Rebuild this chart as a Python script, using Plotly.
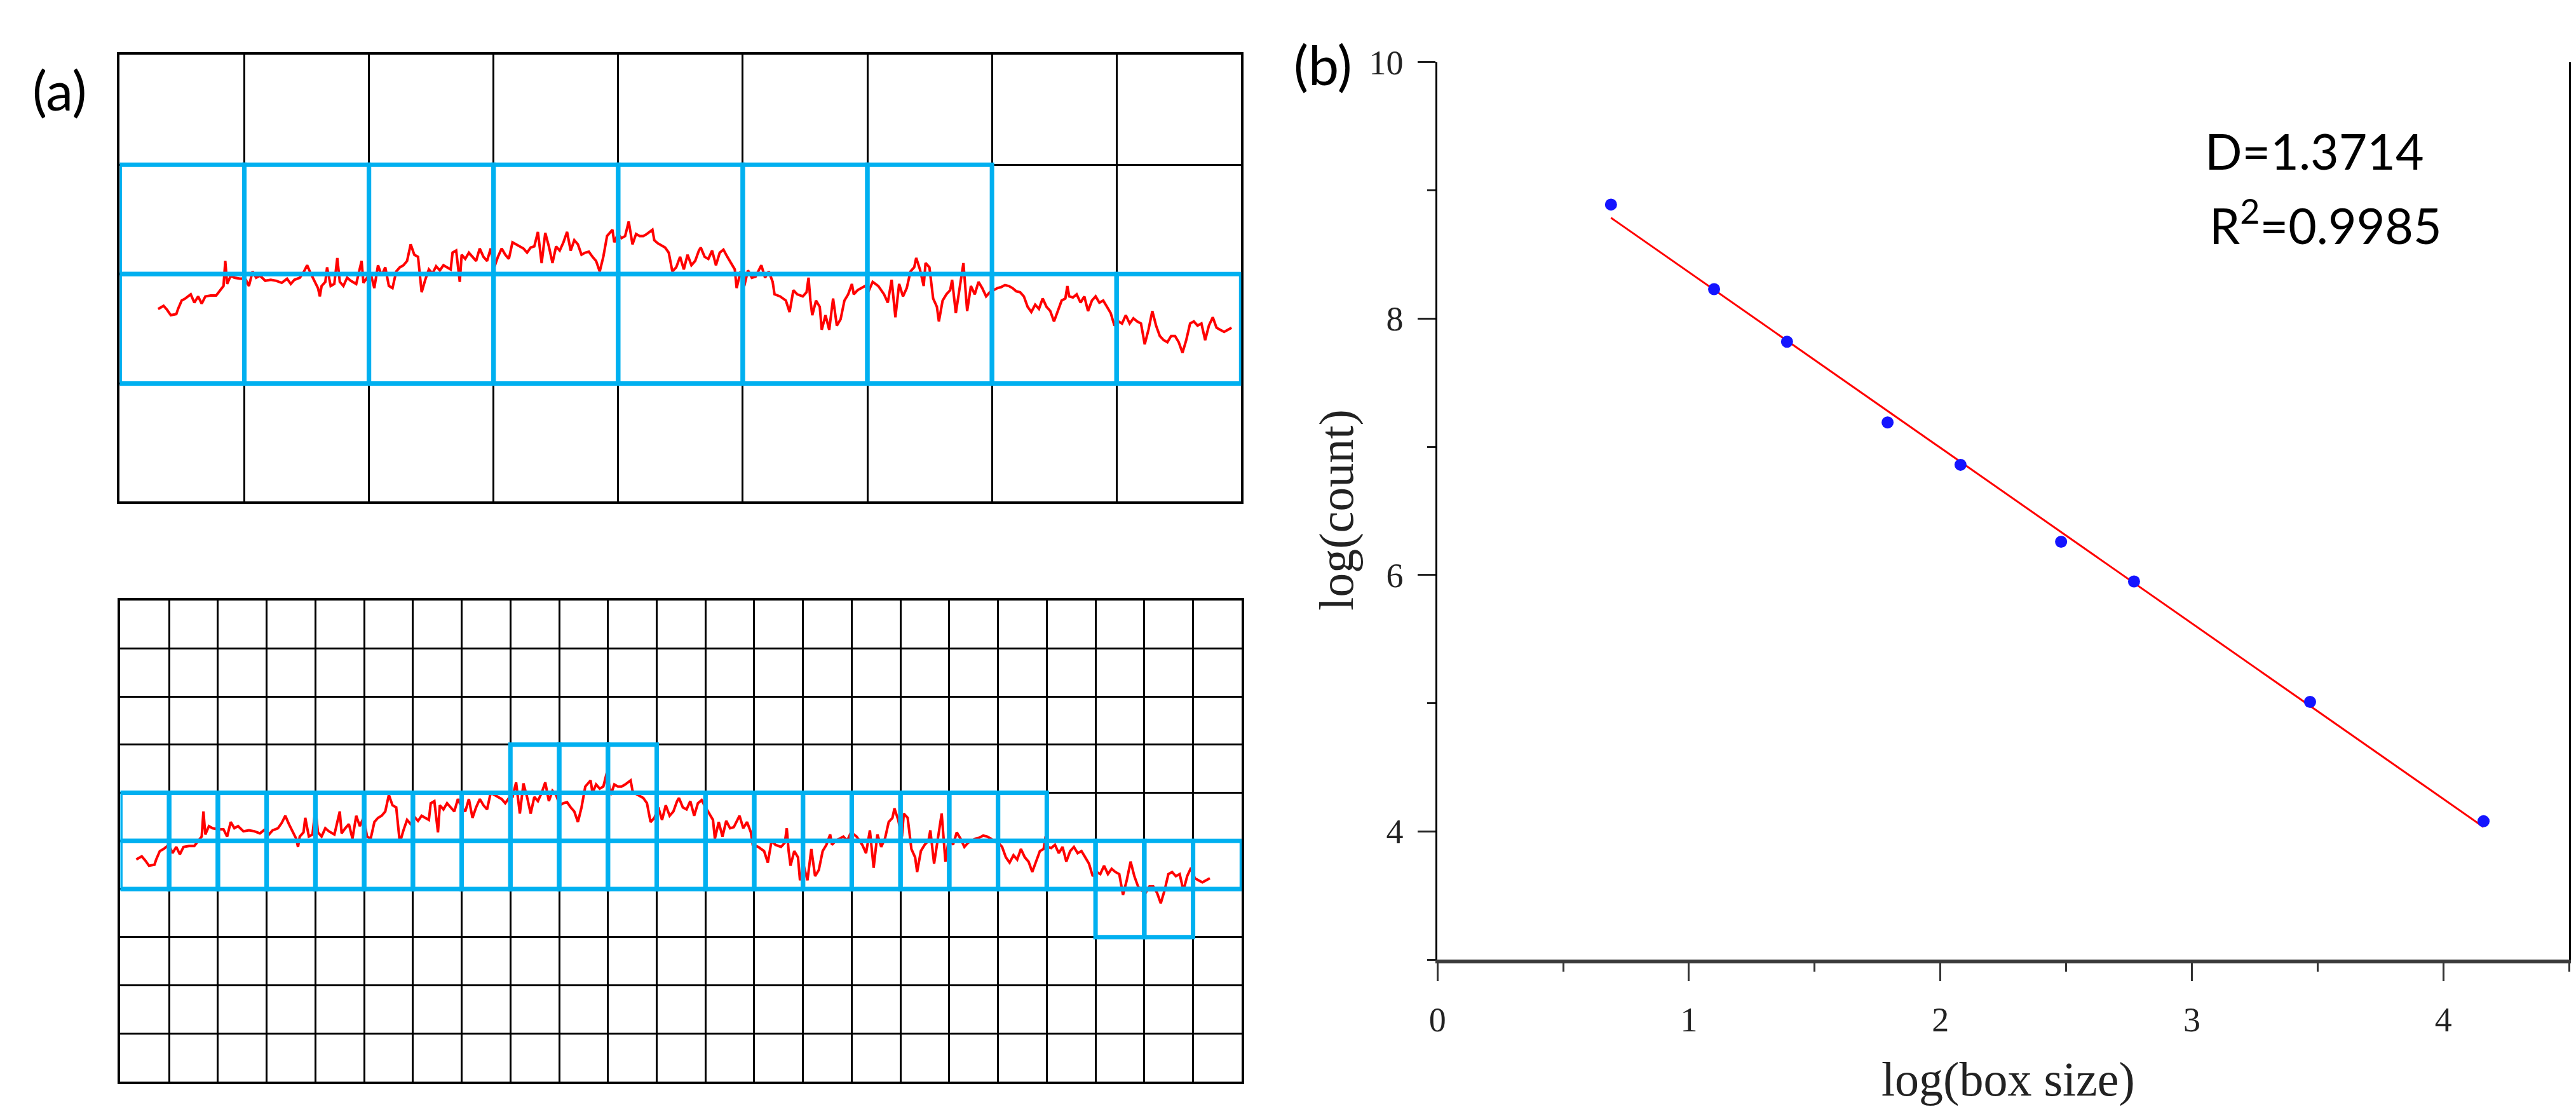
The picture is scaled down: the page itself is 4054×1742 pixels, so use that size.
import numpy as np
import plotly.graph_objects as go

W, H = 4054, 1742

# ---- data -------------------------------------------------------------
# profile trace: x in top-grid columns, y in top-grid rows
# (y = 0 is the lower edge of the upper blue band)
sig_t = [0.308, 0.352, 0.381, 0.410, 0.454, 0.468, 0.497, 0.527, 0.570, 0.599,
         0.629, 0.658, 0.687, 0.731, 0.774, 0.804, 0.833, 0.847, 0.862, 0.891,
         0.920, 0.964, 1.008, 1.037, 1.066, 1.095, 1.125, 1.168, 1.212, 1.256,
         1.300, 1.343, 1.373, 1.402, 1.445, 1.475, 1.504, 1.533, 1.562, 1.591,
         1.606, 1.620, 1.650, 1.664, 1.693, 1.722, 1.746, 1.766, 1.795, 1.825,
         1.854, 1.898, 1.941, 1.956, 1.985, 2.014, 2.043, 2.073, 2.102, 2.131,
         2.160, 2.189, 2.219, 2.248, 2.277, 2.306, 2.335, 2.364, 2.394, 2.423,
         2.452, 2.481, 2.510, 2.539, 2.569, 2.598, 2.627, 2.656, 2.671, 2.700,
         2.729, 2.744, 2.773, 2.802, 2.831, 2.860, 2.889, 2.919, 2.948, 2.977,
         3.006, 3.035, 3.065, 3.094, 3.123, 3.152, 3.181, 3.210, 3.240, 3.269,
         3.298, 3.327, 3.356, 3.386, 3.415, 3.444, 3.473, 3.502, 3.531, 3.561,
         3.590, 3.619, 3.648, 3.677, 3.706, 3.736, 3.765, 3.794, 3.823, 3.852,
         3.881, 3.911, 3.954, 3.969, 3.998, 4.027, 4.056, 4.085, 4.115, 4.144,
         4.173, 4.202, 4.231, 4.275, 4.290, 4.319, 4.348, 4.377, 4.406, 4.421,
         4.435, 4.466, 4.497, 4.527, 4.557, 4.588, 4.618, 4.648, 4.663, 4.694,
         4.724, 4.754, 4.785, 4.815, 4.845, 4.876, 4.906, 4.936, 4.951, 4.982,
         5.012, 5.042, 5.073, 5.103, 5.149, 5.179, 5.209, 5.240, 5.255, 5.300,
         5.346, 5.376, 5.406, 5.437, 5.482, 5.512, 5.528, 5.543, 5.558, 5.588,
         5.618, 5.634, 5.664, 5.694, 5.725, 5.755, 5.785, 5.816, 5.846, 5.876,
         5.891, 5.922, 5.952, 5.982, 6.013, 6.043, 6.088, 6.134, 6.164, 6.195,
         6.225, 6.255, 6.286, 6.316, 6.346, 6.376, 6.392, 6.422, 6.452, 6.467,
         6.498, 6.528, 6.558, 6.574, 6.604, 6.634, 6.665, 6.680, 6.710, 6.740,
         6.771, 6.801, 6.831, 6.862, 6.892, 6.922, 6.953, 6.983, 7.013, 7.044,
         7.074, 7.104, 7.135, 7.165, 7.195, 7.226, 7.256, 7.286, 7.316, 7.347,
         7.377, 7.407, 7.438, 7.468, 7.498, 7.529, 7.559, 7.589, 7.605, 7.620,
         7.650, 7.680, 7.711, 7.741, 7.771, 7.802, 7.832, 7.862, 7.893, 7.923,
         7.953, 7.983, 8.014, 8.044, 8.074, 8.105, 8.135, 8.165, 8.196, 8.226,
         8.256, 8.287, 8.317, 8.347, 8.378, 8.408, 8.438, 8.469, 8.499, 8.529,
         8.559, 8.590, 8.620, 8.650, 8.681, 8.711, 8.741, 8.772, 8.802, 8.832,
         8.863, 8.893, 8.923]
sig_v = [0.681, 0.710, 0.672, 0.624, 0.634, 0.681, 0.758, 0.777, 0.815, 0.739,
         0.796, 0.729, 0.796, 0.805, 0.805, 0.853, 0.891, 1.120, 0.910, 0.986,
         0.967, 0.958, 0.958, 0.891, 1.024, 0.967, 0.986, 0.939, 0.948, 0.939,
         0.920, 0.958, 0.910, 0.948, 0.967, 1.015, 1.081, 1.005, 0.939, 0.872,
         0.796, 0.891, 0.929, 1.062, 0.891, 0.910, 1.148, 0.929, 0.891, 0.967,
         0.939, 0.910, 1.120, 0.920, 0.967, 1.005, 0.872, 1.081, 0.986, 1.062,
         0.891, 0.872, 1.024, 1.062, 1.081, 1.120, 1.272, 1.177, 1.158, 0.834,
         0.948, 1.043, 1.005, 1.072, 1.034, 1.081, 1.062, 1.043, 1.196, 1.215,
         0.929, 1.177, 1.139, 1.196, 1.158, 1.120, 1.234, 1.158, 1.120, 1.234,
         1.062, 1.158, 1.234, 1.177, 1.139, 1.291, 1.272, 1.253, 1.234, 1.196,
         1.243, 1.253, 1.386, 1.101, 1.377, 1.253, 1.101, 1.253, 1.215, 1.291,
         1.386, 1.215, 1.310, 1.272, 1.177, 1.196, 1.205, 1.158, 1.120, 1.024,
         1.158, 1.348, 1.405, 1.291, 1.367, 1.329, 1.348, 1.481, 1.272, 1.367,
         1.348, 1.348, 1.367, 1.405, 1.310, 1.281, 1.262, 1.243, 1.196, 1.120,
         1.024, 1.062, 1.158, 1.043, 1.177, 1.081, 1.120, 1.215, 1.243, 1.158,
         1.139, 1.215, 1.081, 1.196, 1.224, 1.158, 1.101, 1.043, 0.872, 1.024,
         0.891, 1.034, 0.967, 0.977, 1.081, 0.967, 1.024, 0.929, 0.815, 0.796,
         0.758, 0.653, 0.853, 0.815, 0.796, 0.834, 0.967, 0.758, 0.624, 0.758,
         0.701, 0.491, 0.624, 0.491, 0.777, 0.529, 0.586, 0.758, 0.815, 0.910,
         0.815, 0.853, 0.872, 0.891, 0.853, 0.929, 0.891, 0.815, 0.739, 0.948,
         0.605, 0.910, 0.796, 0.872, 1.024, 1.062, 1.148, 1.043, 0.891, 1.101,
         1.062, 0.777, 0.701, 0.567, 0.758, 0.815, 0.853, 0.948, 0.643, 0.853,
         1.101, 0.662, 0.891, 0.815, 0.929, 0.872, 0.796, 0.834, 0.853, 0.872,
         0.881, 0.900, 0.891, 0.872, 0.843, 0.834, 0.796, 0.701, 0.653, 0.720,
         0.681, 0.777, 0.701, 0.662, 0.567, 0.662, 0.758, 0.777, 0.891, 0.796,
         0.786, 0.815, 0.739, 0.796, 0.662, 0.758, 0.796, 0.739, 0.758, 0.701,
         0.643, 0.529, 0.567, 0.548, 0.624, 0.548, 0.596, 0.567, 0.548, 0.358,
         0.491, 0.662, 0.529, 0.434, 0.396, 0.377, 0.434, 0.434, 0.377, 0.281,
         0.396, 0.548, 0.567, 0.529, 0.548, 0.396, 0.529, 0.605, 0.510, 0.491,
         0.472, 0.491, 0.510]

# covering boxes: (row counted from the top, first column, last column)
top_box_runs = [(1, 0, 6), (2, 0, 8)]
bottom_box_runs = [(3, 8, 10), (4, 0, 18), (5, 0, 22), (6, 20, 21)]

# panel (b)
log_box = [0.69, 1.10, 1.39, 1.79, 2.08, 2.48, 2.77, 3.47, 4.16]
log_count = [8.89, 8.23, 7.82, 7.19, 6.86, 6.26, 5.95, 5.01, 4.08]
D_text = "D=1.3714"
R2_text = "R<sup>2</sup>=0.9985"

# ---- geometry (pixels of the 4054x1742 page) --------------------------
def px(x):
    return x / W

def py(y):
    return 1 - y / H

TOP = dict(x0=167, x1=1938, y0=50, y1=765)
BOT = dict(x0=168, x1=1939, y0=923, y1=1693)
B = dict(x0=2248, x1=4035, y0=62, y1=1498)
COL_TOP, ROW_TOP, BAND_Y = 196.8, 175.0, 576   # top grid cell size, y=0 line
SHIFT_X, SHIFT_Y = -34.5, 881                   # same trace redrawn lower-left

BLUE = "#00B0F0"
RED = "#FF0000"

fig = go.Figure()

fig.add_trace(go.Scatter(x=sig_t, y=sig_v, mode="lines", xaxis="x", yaxis="y",
                         line=dict(color=RED, width=4)))
fig.add_trace(go.Scatter(x=sig_t, y=sig_v, mode="lines", xaxis="x3", yaxis="y3",
                         line=dict(color=RED, width=4)))

coef = np.polyfit(log_box, log_count, 1)
fit_x = [min(log_box), max(log_box)]
fig.add_trace(go.Scatter(x=fit_x, y=np.polyval(coef, fit_x), mode="lines",
                         xaxis="x4", yaxis="y4", line=dict(color=RED, width=3)))
fig.add_trace(go.Scatter(x=log_box, y=log_count, mode="markers",
                         xaxis="x4", yaxis="y4",
                         marker=dict(color="#1414FF", size=19)))

grid_axis = dict(showgrid=True, gridcolor="black", gridwidth=3, showline=True,
                 mirror=True, linecolor="black", linewidth=4, ticks="",
                 showticklabels=False, zeroline=False, fixedrange=True)

top_y_low = (BAND_Y - TOP["y1"]) / ROW_TOP
top_y_high = (BAND_Y - TOP["y0"]) / ROW_TOP
fig.update_layout(
    xaxis=dict(grid_axis, domain=[px(TOP["x0"]), px(TOP["x1"])], range=[0, 9],
               tickvals=list(range(1, 9)), anchor="y"),
    yaxis=dict(grid_axis, domain=[py(TOP["y1"]), py(TOP["y0"])],
               range=[top_y_low, top_y_high], tickvals=[0, 1, 2], anchor="x"),
    xaxis2=dict(grid_axis, domain=[px(BOT["x0"]), px(BOT["x1"])], range=[0, 23],
                tickvals=list(range(1, 23)), anchor="y2"),
    yaxis2=dict(grid_axis, domain=[py(BOT["y1"]), py(BOT["y0"])], range=[0, 10],
                tickvals=list(range(1, 10)), anchor="x2"),
)

# overlay axes that place the same trace inside the finer grid
x3_range = [(BOT["x0"] - SHIFT_X - TOP["x0"]) / COL_TOP,
            (BOT["x1"] - SHIFT_X - TOP["x0"]) / COL_TOP]
y3_range = [(BAND_Y - (BOT["y1"] - SHIFT_Y)) / ROW_TOP,
            (BAND_Y - (BOT["y0"] - SHIFT_Y)) / ROW_TOP]
fig.update_layout(
    xaxis3=dict(overlaying="x2", range=x3_range, visible=False, anchor="y3"),
    yaxis3=dict(overlaying="y2", range=y3_range, visible=False, anchor="x3"),
)

tick_font = dict(family="Liberation Serif", size=54, color="#222")
fig.update_layout(
    xaxis4=dict(domain=[px(B["x0"]), px(B["x1"])], range=[0, 4.5], dtick=1,
                tick0=0, ticks="outside", ticklen=28, tickwidth=3,
                tickcolor="#333", ticklabelstandoff=14,
                minor=dict(dtick=0.5, ticks="outside", ticklen=13,
                           tickwidth=3, tickcolor="#333"),
                showline=True, linecolor="#3a3a3a", linewidth=6,
                showgrid=False, zeroline=False, tickfont=tick_font,
                anchor="y4"),
    yaxis4=dict(domain=[py(B["y1"]), py(B["y0"])], range=[3, 10],
                tickvals=[4, 6, 8, 10], ticks="outside", ticklen=28,
                tickwidth=3, tickcolor="#222", ticklabelstandoff=12,
                minor=dict(dtick=1, tick0=3, ticks="outside", ticklen=13,
                           tickwidth=3, tickcolor="#222"),
                showline=True, mirror=True, linecolor="black", linewidth=3,
                showgrid=False, zeroline=False, tickfont=tick_font,
                anchor="x4"),
    xaxis5=dict(domain=[px(B["x0"]), px(B["x1"])], range=[0, 4.5],
                overlaying="x4", side="top", anchor="y4", showline=True,
                linecolor="#808080", linewidth=6, ticks="",
                showticklabels=False, showgrid=False, zeroline=False),
)

# blue covering boxes
for row, c0, c1 in top_box_runs:
    for c in range(c0, c1 + 1):
        fig.add_shape(type="rect", xref="x", yref="y", x0=c, x1=c + 1,
                      y0=2 - row, y1=3 - row, layer="above",
                      line=dict(color=BLUE, width=7))
for row, c0, c1 in bottom_box_runs:
    for c in range(c0, c1 + 1):
        fig.add_shape(type="rect", xref="x2", yref="y2", x0=c, x1=c + 1,
                      y0=9 - row, y1=10 - row, layer="above",
                      line=dict(color=BLUE, width=7))

label_font = dict(family="Lato", size=86, color="black")
note_font = dict(family="Lato", size=77, color="black")
title_font = dict(family="Liberation Serif", size=76, color="#222")
notes = [
    dict(text="(a)", x=px(72), y=py(105), xanchor="center", yanchor="middle",
         font=label_font),
    dict(text="(b)", x=px(2067), y=py(65), xanchor="center", yanchor="middle",
         font=label_font),
    dict(text=D_text, x=px(3458), y=py(203), xanchor="left", yanchor="middle",
         font=note_font),
    dict(text=R2_text, x=px(3465), y=py(318), xanchor="left", yanchor="middle",
         font=note_font),
    dict(text="log(box size)", x=px(3149), y=py(1690), xanchor="center",
         yanchor="middle", font=title_font),
    dict(text="log(count)", x=px(2088), y=py(778), xanchor="center",
         yanchor="middle", textangle=-90, font=title_font),
]
for n in notes:
    fig.add_annotation(xref="paper", yref="paper", showarrow=False, **n)

fig.update_layout(width=W, height=H, margin=dict(l=0, r=0, t=0, b=0),
                  paper_bgcolor="white", plot_bgcolor="white",
                  showlegend=False, hovermode=False)

fig.write_html("out.html")
